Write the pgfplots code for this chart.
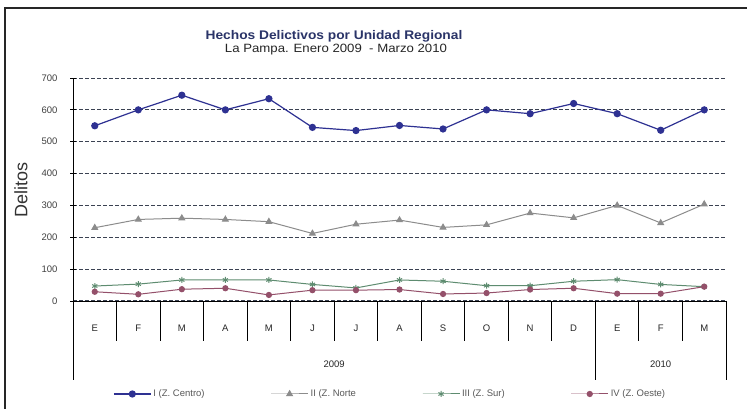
\documentclass[border=0pt]{standalone}
\usepackage{pgfplots}
\pgfplotsset{compat=1.18}
\usepackage{fontspec}
\setmainfont{Liberation Sans}
\newfontfamily\widefont[FakeStretch=1.1]{Liberation Sans}
\definecolor{cCentro}{HTML}{2E3192}
\definecolor{cNorte}{HTML}{8C8C8C}
\definecolor{cSur}{HTML}{5E8C70}
\definecolor{cOeste}{HTML}{94506A}
\definecolor{gridc}{HTML}{3B4252}
\definecolor{titc}{HTML}{2A3468}
\begin{document}
\begin{tikzpicture}
\useasboundingbox (0,0) rectangle (747pt,409pt);
\fill[white] (0,0) rectangle (747pt,409pt);
\draw[color=black!85, line width=2pt] (5pt,-10pt) -- (5pt,401pt) -- (760pt,401pt);
\node[font=\widefont\bfseries\fontsize{12.5}{14}\selectfont, text=titc] at (334pt,373pt) {Hechos Delictivos por Unidad Regional};
\node[font=\widefont\fontsize{12}{14}\selectfont, text=black!85] at (336pt,359pt) {La Pampa. Enero 2009 \ - Marzo 2010};
\node[rotate=90, font=\fontsize{18}{20}\selectfont, text=black!80] at (21pt,219pt) {Delitos};
\begin{axis}[
  at={(73pt,108pt)}, anchor=south west,
  width=653pt, height=223pt, scale only axis,
  xmin=-0.5, xmax=14.5, ymin=0, ymax=700,
  clip=false,
  axis x line*=bottom, axis y line*=left,
  axis line style={black, line width=0.9pt, -},
  ytick={0,100,...,700},
  xtick={0,...,14},
  xticklabels={E,F,M,A,M,J,J,A,S,O,N,D,E,F,M},
  xtick style={draw=none},
  ytick style={black, line width=0.8pt},
  tick align=center,
  major tick length=6pt,
  xticklabel style={font=\fontsize{9.5}{10}\selectfont, text=black!85, yshift=-17pt},
  yticklabel style={font=\fontsize{9.5}{10}\selectfont, text=black!75, xshift=-9pt},
  /pgf/number format/assume math mode=true,
  ymajorgrids,
  major grid style={dash pattern=on 4pt off 2pt, color=gridc, line width=1pt},
  legend columns=4,
  legend style={at={(axis description cs:0.0613,-0.417)}, anchor=west, draw=none, fill=none,
    inner sep=0pt, font=\fontsize{9.5}{10}\selectfont, text=black!65,
    /tikz/every even column/.append style={column sep=64pt}},
  legend image code/.code={\draw[mark repeat=2,mark phase=2] plot coordinates {(0pt,0pt) (18.5pt,0pt) (37pt,0pt)};},
]
\addplot[color=cCentro, line width=1.2pt, mark=*, mark size=3pt, mark options={solid, fill=cCentro}] coordinates {
(0,550) (1,600) (2,646) (3,600) (4,635) (5,545) (6,535) (7,551) (8,540) (9,600) (10,588) (11,620) (12,588) (13,536) (14,600)};
\addlegendentry{I (Z. Centro)}
\addplot[color=cNorte, line width=1pt, mark=triangle*, mark size=3.2pt, mark options={solid, fill=cNorte}] coordinates {
(0,230) (1,256) (2,260) (3,256) (4,249) (5,212) (6,241) (7,254) (8,231) (9,239) (10,276) (11,261) (12,300) (13,245) (14,304)};
\addlegendentry{II (Z. Norte}
\addplot[color=cSur, line width=1pt, mark=asterisk, mark size=3pt, mark options={solid}] coordinates {
(0,47) (1,53) (2,66) (3,66) (4,66) (5,52) (6,41) (7,66) (8,62) (9,48) (10,48) (11,62) (12,67) (13,52) (14,45)};
\addlegendentry{III (Z. Sur)}
\addplot[color=cOeste, line width=1pt, mark=*, mark size=2.6pt, mark options={solid, fill=cOeste}] coordinates {
(0,29) (1,21) (2,37) (3,40) (4,19) (5,34) (6,34) (7,36) (8,22) (9,25) (10,36) (11,40) (12,23) (13,23) (14,45)};
\addlegendentry{IV (Z. Oeste)}
\pgfplotsinvokeforeach{-0.5,0.5,1.5,2.5,3.5,4.5,5.5,6.5,7.5,8.5,9.5,10.5,11.5,12.5,13.5,14.5}{
  \draw[black, line width=0.9pt] (axis cs:#1,0) -- ++(0pt,-40pt);
}
\pgfplotsinvokeforeach{-0.5,11.5,14.5}{
  \draw[black, line width=0.9pt] (axis cs:#1,0) -- ++(0pt,-79pt);
}
\node[font=\fontsize{9.5}{10}\selectfont, text=black!85] at (axis cs:5.5,0) [yshift=-63pt] {2009};
\node[font=\fontsize{9.5}{10}\selectfont, text=black!85] at (axis cs:13,0) [yshift=-63pt] {2010};
\end{axis}
\end{tikzpicture}
\end{document}
